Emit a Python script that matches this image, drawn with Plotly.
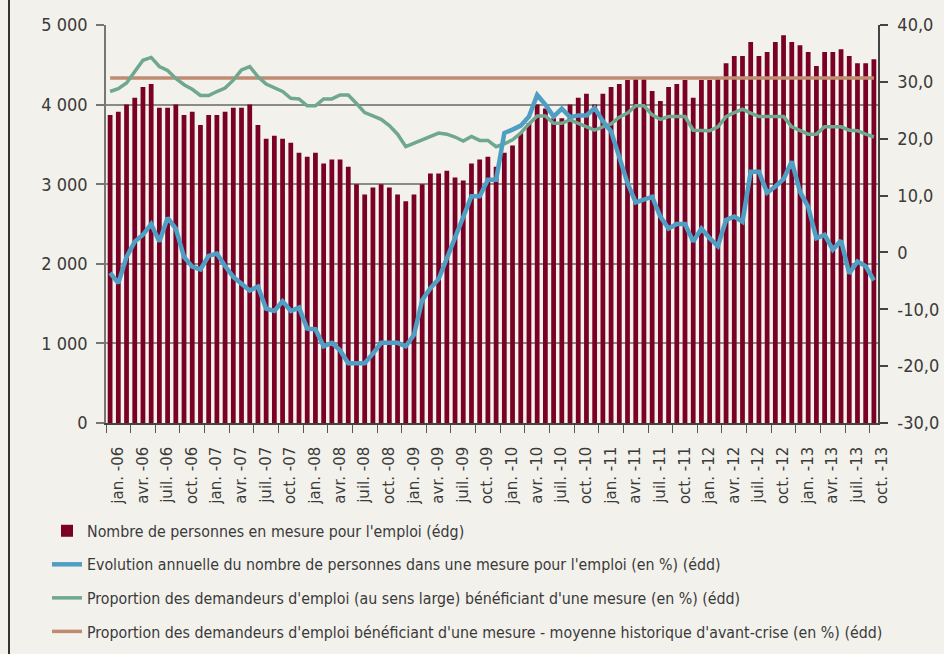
import plotly.graph_objects as go

# ---------------- data (monthly, jan. 2006 -> oct. 2013) ----------------
persons = [
    3870, 3910, 4000, 4085, 4220, 4260, 3960, 3960, 4000, 3870, 3910, 3745,
    3870, 3870, 3910, 3960, 3960, 4000, 3745, 3570, 3610, 3570, 3520, 3395,
    3345, 3395, 3260, 3310, 3310, 3220, 3000, 2870, 2960, 3000, 2960, 2870,
    2785, 2870, 3000, 3135, 3135, 3170, 3085, 3045, 3260, 3310, 3345, 3220,
    3395, 3485, 3640, 3770, 4000, 3950, 3830, 3830, 4000, 4085, 4135, 4000,
    4135, 4220, 4260, 4310, 4320, 4320, 4170, 4045, 4220, 4260, 4310, 4085,
    4310, 4310, 4320, 4520, 4610, 4610, 4785, 4610, 4660, 4785, 4870, 4785,
    4745, 4660, 4485, 4660, 4660, 4695, 4610, 4520, 4520, 4570,
]

evolution = [
    -3.6, -5.4, -0.8, 1.9, 3.1, 5.0, 1.9, 6.1, 4.2, -0.8, -2.5, -3.0,
    -0.6, -0.2, -2.4, -4.3, -5.5, -6.7, -6.0, -9.9, -10.3, -8.6, -10.3, -9.7,
    -13.4, -13.5, -16.5, -15.9, -17.2, -19.5, -19.5, -19.5, -17.8, -15.9, -15.9, -15.9,
    -16.5, -14.5, -8.4, -6.3, -4.7, -1.0, 2.5, 6.3, 9.9, 9.9, 12.8, 12.8,
    21.0, 21.6, 22.3, 23.9, 27.7, 26.0, 23.9, 25.3, 23.8, 24.1, 24.1, 25.4,
    23.1, 21.3, 16.6, 12.2, 8.8, 9.2, 9.8, 6.3, 4.2, 5.0, 5.0, 1.9,
    4.2, 2.5, 1.1, 5.7, 6.3, 5.4, 14.2, 14.2, 10.5, 11.6, 12.9, 16.0,
    10.7, 8.0, 2.5, 3.1, 0.5, 2.1, -3.7, -1.6, -2.4, -4.9,
]

proportion = [
    28.3, 28.8, 29.8, 31.8, 33.8, 34.3, 32.7, 32.0, 30.6, 29.5, 28.7, 27.6,
    27.6, 28.3, 28.9, 30.3, 32.1, 32.7, 30.9, 29.6, 29.0, 28.3, 27.1, 27.0,
    25.8, 25.8, 27.0, 27.0, 27.7, 27.7, 26.2, 24.6, 24.0, 23.4, 22.3, 20.8,
    18.6, 19.2, 19.8, 20.4, 21.0, 20.8, 20.3, 19.6, 20.4, 19.7, 19.7, 18.6,
    19.1, 19.8, 21.0, 22.6, 24.0, 24.0, 22.7, 22.7, 23.3, 22.7, 22.1, 21.5,
    22.1, 22.6, 23.8, 24.5, 25.8, 25.8, 24.2, 23.4, 23.9, 23.9, 23.9, 21.5,
    21.4, 21.4, 22.1, 23.9, 24.6, 25.2, 24.5, 23.9, 23.9, 23.9, 23.9, 22.1,
    21.4, 20.8, 20.8, 22.1, 22.1, 22.1, 21.5, 21.4, 20.8, 20.3,
]

pre_crisis_average = 30.7
pre_crisis = [pre_crisis_average] * len(persons)

quarter_labels = [
    "jan. -06", "avr. -06", "juil. -06", "oct. -06",
    "jan. -07", "avr. -07", "juil. -07", "oct. -07",
    "jan. -08", "avr. -08", "juil. -08", "oct. -08",
    "jan. -09", "avr. -09", "juil. -09", "oct. -09",
    "jan. -10", "avr. -10", "juil. -10", "oct. -10",
    "jan. -11", "avr. -11", "juil. -11", "oct. -11",
    "jan. -12", "avr. -12", "juil. -12", "oct. -12",
    "jan. -13", "avr. -13", "juil. -13", "oct. -13",
]

left_ticks = [0, 1000, 2000, 3000, 4000, 5000]
left_labels = ["0", "1 000", "2 000", "3 000", "4 000", "5 000"]
right_ticks = [-30, -20, -10, 0, 10, 20, 30, 40]
right_labels = ["-30,0", "-20,0", "-10,0", "0", "10,0", "20,0", "30,0", "40,0"]

names = [
    "Nombre de personnes en mesure pour l'emploi (édg)",
    "Evolution annuelle du nombre de personnes dans une mesure pour l'emploi (en %) (édd)",
    "Proportion des demandeurs d'emploi (au sens large) bénéficiant d'une mesure (en %) (édd)",
    "Proportion des demandeurs d'emploi bénéficiant d'une mesure - moyenne historique d'avant-crise (en %) (édd)",
]

# ---------------- layout constants ----------------
W, H = 944, 654
ML, MR, MT, MB = 106, 56, 25, 231
plot_w = W - ML - MR
plot_h = H - MT - MB
axis_w = 772
x_dom = axis_w / plot_w
n = len(persons)
px_per_month = axis_w / n
x = list(range(n))

BG = "#F2F1EB"
TXT = "#3a3a3a"
AXIS_FONT = "DejaVu Sans Condensed, DejaVu Sans, sans-serif"
LEG_FONT = "DejaVu Sans Condensed, sans-serif"

fig = go.Figure()

fig.add_trace(go.Bar(
    x=x, y=persons, name=names[0], marker_color="#7A0026",
    marker_line_width=0, width=0.58, yaxis="y",
    legendgroup="a", legendrank=1,
))
fig.add_trace(go.Scatter(
    x=x, y=pre_crisis, name=names[3], mode="lines",
    line=dict(color="#BF8C72", width=3.5), yaxis="y2",
    legendgroup="d", legendrank=4,
))
fig.add_trace(go.Scatter(
    x=x, y=proportion, name=names[2], mode="lines",
    line=dict(color="#6FA791", width=3.5), yaxis="y2",
    legendgroup="c", legendrank=3,
))
fig.add_trace(go.Scatter(
    x=x, y=evolution, name=names[1], mode="lines",
    line=dict(color="#4F9FC4", width=4.5), yaxis="y2",
    legendgroup="b", legendrank=2,
))

tick_pos = [3 * k - 0.5 for k in range(len(quarter_labels))]

fig.update_layout(
    width=W, height=H,
    margin=dict(l=ML, r=MR, t=MT, b=MB, autoexpand=False),
    paper_bgcolor=BG, plot_bgcolor=BG,
    showlegend=True,
    xaxis=dict(
        domain=[0, x_dom], range=[-0.5, n - 0.5],
        tickvals=tick_pos, ticktext=quarter_labels,
        tickangle=-90, ticks="outside", ticklen=8, tickcolor="#555555", tickwidth=1.2,
        ticklabelshift=int(round(1.5 * px_per_month)), ticklabelstandoff=8,
        showline=True, linecolor="#444444", linewidth=1.5,
        showgrid=False, zeroline=False,
        tickfont=dict(family="DejaVu Sans, sans-serif", size=15, color=TXT),
    ),
    yaxis=dict(
        range=[0, 5000], tickvals=left_ticks, ticktext=left_labels,
        ticks="outside", ticklen=8, tickcolor="#777777", tickwidth=1.5,
        ticklabelstandoff=5,
        showline=True, linecolor="#777777", linewidth=1.5,
        showgrid=True, gridcolor="#8a8a8a", gridwidth=1.5, zeroline=False,
        tickfont=dict(family=AXIS_FONT, size=18, color=TXT),
    ),
    yaxis2=dict(
        range=[-30, 40], tickvals=right_ticks, ticktext=right_labels,
        overlaying="y", side="right", anchor="x",
        ticks="outside", ticklen=8, tickcolor="#444444", tickwidth=1.5,
        ticklabelstandoff=6,
        showline=True, linecolor="#444444", linewidth=1.5,
        showgrid=False, zeroline=False,
        tickfont=dict(family=AXIS_FONT, size=18, color=TXT),
    ),
    legend=dict(
        x=(47 - ML) / plot_w, xanchor="left",
        y=(MT + plot_h - 514) / plot_h, yanchor="top",
        traceorder="grouped", tracegroupgap=10,
        bgcolor="rgba(0,0,0,0)", borderwidth=0,
        font=dict(family=LEG_FONT, size=15.8, color=TXT),
    ),
    shapes=[dict(
        type="line", xref="paper", yref="paper",
        x0=(9 - ML) / plot_w, x1=(9 - ML) / plot_w,
        y0=(MT + plot_h - H) / plot_h, y1=(MT + plot_h) / plot_h,
        line=dict(color="#333333", width=2),
    )],
)

page_js = (
    "document.body.style.margin='0';"
    "document.body.style.background='" + BG + "';"
)

fig.write_html("out.html", config={"displayModeBar": False}, post_script=page_js)
